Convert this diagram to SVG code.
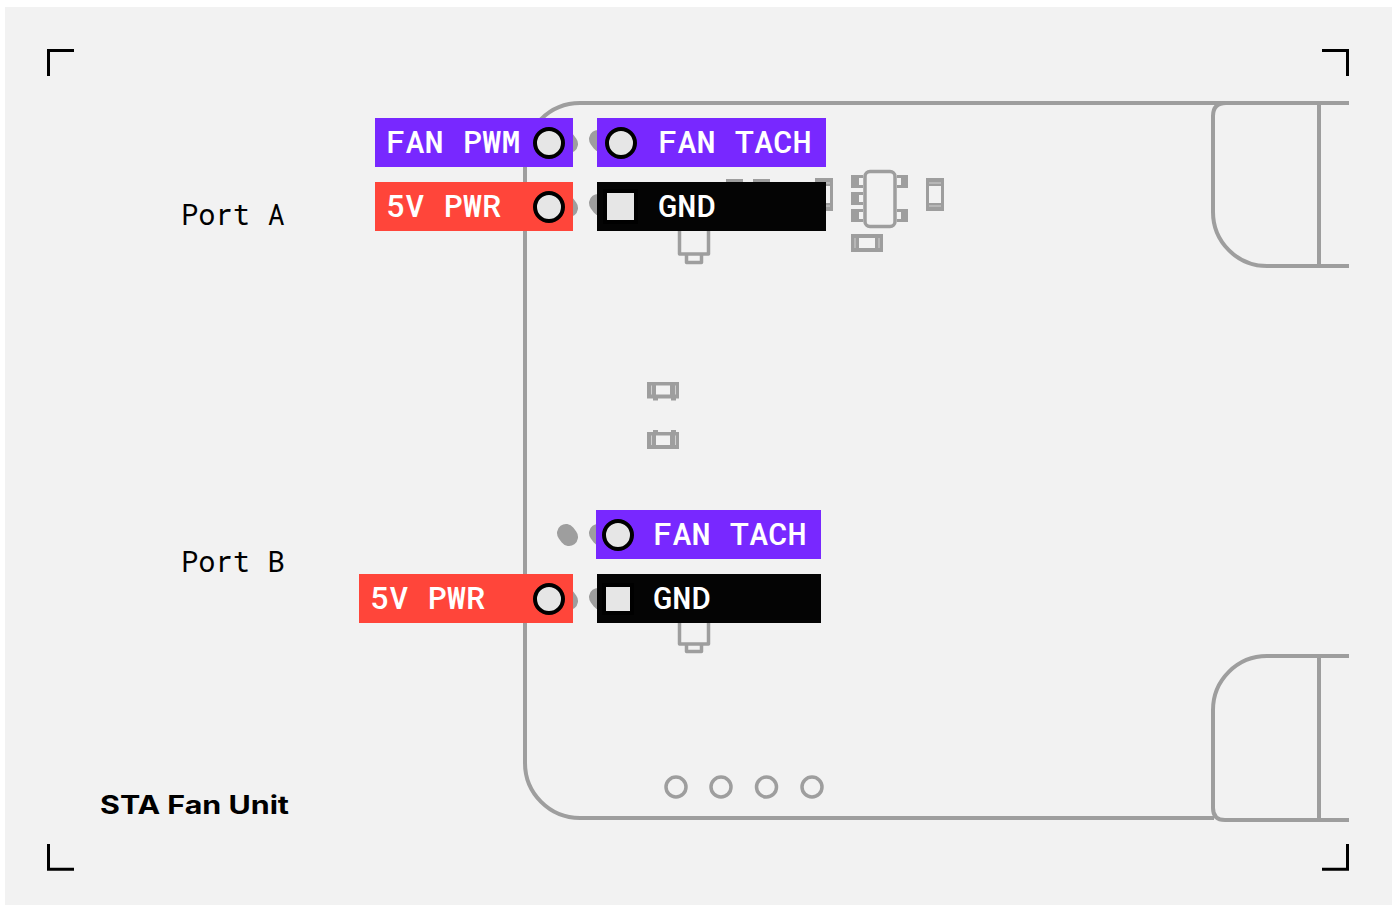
<svg xmlns="http://www.w3.org/2000/svg" width="1398" height="905" viewBox="0 0 1398 905">
<style>
.pcb{fill:none;stroke:#9e9e9e;stroke-width:4;stroke-linejoin:round}
.thin{fill:none;stroke:#9e9e9e;stroke-width:3.500;stroke-linejoin:round}
.smd{fill:#9e9e9e;fill-rule:evenodd}
.sl{fill:none;stroke:#d0d0d0;stroke-width:1}
.blob{fill:none;stroke:#9e9e9e;stroke-width:18;stroke-linecap:round}
.lab{font-family:"Roboto Mono","DejaVu Sans Mono",monospace;font-size:32px;font-weight:500;fill:#fff}
.port{font-family:"Roboto Mono","Liberation Mono",monospace;font-size:28.800px;fill:#000}
.pin{fill:#e6e6e6;stroke:#000;stroke-width:4}
.sq{fill:#e6e6e6;stroke:#000;stroke-width:4}
.crop{fill:none;stroke:#000;stroke-width:3}
</style>
<rect x="5" y="7" width="1387" height="898" fill="#f2f2f2"/>
<g id="board">
<path class="pcb" d="M1349 103H580A55 55 0 0 0 525 158V763A55 55 0 0 0 580 818H1214"/>
<path class="pcb" d="M1349 103H1226Q1213 103 1213 116V212A54 54 0 0 0 1267 266H1349M1319 103V266"/>
<path class="pcb" d="M1349 656H1267A54 54 0 0 0 1213 710V808Q1213 820 1225 820H1349M1319 656V820"/>
<path class="blob" d="M566 140L569 144M598 139L601 143M566 204L569 208M598 203L601 207M566 533L569 537M598 533L601 537M566 597L569 601M598 597L601 601"/>
<path class="smd" d="M726 179h17v10h-17zM753 179h17v10h-17z"/>
<path class="thin" d="M679.500 230V254H708.500V230M686.500 254V262.500H701.500V254"/>
<path class="thin" d="M679.500 620V644H708.500V620M686.500 644V651.500H701.500V644"/>
<path class="smd" d="M815 178h18v33h-18zM818 186v17h12v-17z"/>
<path class="sl" d="M818 183H830M818 206H830"/>
<rect class="thin" x="865" y="171.500" width="30" height="55" rx="5"/>
<path class="smd" d="M851 175h12v13h-12zM859 178v7h4v-7zM851 192h12v13h-12zM859 195v7h4v-7zM851 209h12v13h-12zM859 212v7h4v-7zM897 175h11v13h-11zM897 178v7h4v-7zM897 209h11v13h-11zM897 212v7h4v-7z"/>
<path class="smd" d="M926 178h18v33h-18zM929 186v17h12v-17z"/>
<path class="sl" d="M929 183H941M929 206H941"/>
<path class="smd" d="M851 234h32v18h-32zM859 238v10h16v-10z"/>
<path class="sl" d="M855 238V248M879 238V248"/>
<path class="smd" d="M647 382h32v16.500h-3v2h-5v-2h-13v2h-5v-2h-6zM656 385.500v9h14v-9z"/>
<path class="sl" d="M651.500 385.500V394.500M675.500 385.500V394.500"/>
<path class="smd" d="M647 432h6v-2h5v2h13v-2h5v2h3v17h-32zM656 435.500v9.500h14v-9.500z"/>
<path class="sl" d="M651.500 435.500V445M675.500 435.500V445"/>
<circle class="thin" cx="676" cy="787" r="10"/><circle class="thin" cx="721" cy="787" r="10"/><circle class="thin" cx="766.500" cy="787" r="10"/><circle class="thin" cx="812" cy="787" r="10"/>
</g>
<g id="connectors"/>
<g id="port-a-fan-pwm"><rect x="375" y="118" width="198" height="49" fill="#7828ff"/><text class="lab" x="386" y="153">FAN PWM</text><circle class="pin" cx="549" cy="143" r="14"/></g>
<g id="port-a-5v"><rect x="375" y="182" width="198" height="49" fill="#ff453a"/><text class="lab" x="386" y="217">5V PWR</text><circle class="pin" cx="549" cy="207" r="14"/></g>
<g id="port-a-fan-tach"><rect x="597" y="118" width="229" height="49" fill="#7828ff"/><text class="lab" x="658" y="153">FAN TACH</text><circle class="pin" cx="621" cy="143" r="14"/></g>
<g id="port-a-gnd"><rect x="597" y="182" width="229" height="49" fill="#040404"/><text class="lab" x="658" y="217">GND</text><rect class="sq" x="605" y="191" width="31" height="31"/></g>
<g id="port-b-fan-tach"><rect x="596" y="510" width="225" height="49" fill="#7828ff"/><text class="lab" x="653" y="545">FAN TACH</text><circle class="pin" cx="618" cy="535" r="14"/></g>
<g id="port-b-5v"><rect x="359" y="574" width="214" height="49" fill="#ff453a"/><text class="lab" x="370" y="609">5V PWR</text><circle class="pin" cx="549" cy="599" r="14"/></g>
<g id="port-b-gnd"><rect x="597" y="574" width="224" height="49" fill="#040404"/><text class="lab" x="653" y="609">GND</text><rect class="sq" x="604" y="585" width="28" height="28"/></g>
<g id="titles">
<text class="port" x="181" y="225">Port A</text>
<text class="port" x="181" y="572">Port B</text>
<text x="100" y="813.500" font-family="Inter,'Liberation Sans',sans-serif" font-size="25" font-weight="700" textLength="189" lengthAdjust="spacingAndGlyphs" fill="#000">STA Fan Unit</text>
</g>
<g id="crops">
<path class="crop" d="M74 50.500H48.500V76"/><path class="crop" d="M1322 50.500H1347.500V76"/><path class="crop" d="M48.500 844V869.300H74"/><path class="crop" d="M1322 869.300H1347.500V844"/>
</g>
</svg>
